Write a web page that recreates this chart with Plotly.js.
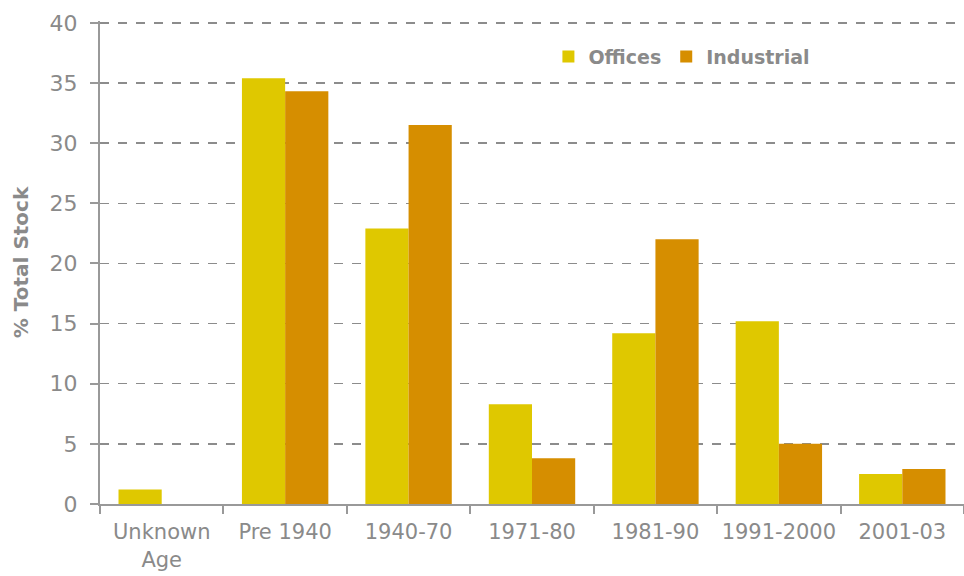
<!DOCTYPE html>
<html>
<head>
<meta charset="utf-8">
<script src="https://cdn.plot.ly/plotly-3.0.1.min.js"></script>
<style>html,body{margin:0;padding:0;background:#fff;}#chart{width:964px;height:576px;}</style>
</head>
<body>
<div id="chart"></div>
<script>
var categories = ["Unknown<br>Age", "Pre 1940", "1940-70", "1971-80", "1981-90", "1991-2000", "2001-03"];
var offices = [1.2, 35.4, 22.9, 8.3, 14.2, 15.2, 2.5];
var industrial = [0, 34.3, 31.5, 3.8, 22.0, 5.0, 2.9];
var yTicks = [0, 5, 10, 15, 20, 25, 30, 35, 40];

var grey = "#8a8a8a";
var traces = [
  {type: "bar", name: "Offices", x: categories, y: offices, marker: {color: "#DFC800"}},
  {type: "bar", name: "Industrial", x: categories, y: industrial, marker: {color: "#D68E00"}}
];
var layout = {
  width: 964, height: 576,
  margin: {l: 100, r: 0, t: 21, b: 72},
  paper_bgcolor: "#fff", plot_bgcolor: "#fff",
  font: {family: "DejaVu Sans", color: grey, size: 21},
  barmode: "group", bargap: 0.3, bargroupgap: 0,
  showlegend: true,
  legend: {orientation: "h", x: 0.519, y: 0.926, xanchor: "left", yanchor: "middle",
           font: {family: "DejaVu Sans", size: 19, color: grey, weight: "bold"},
           bgcolor: "rgba(0,0,0,0)", itemwidth: 30},
  xaxis: {type: "category", showline: true, linecolor: "#999", linewidth: 2,
          ticks: "outside", tickson: "boundaries", ticklen: 8, tickwidth: 2, tickcolor: "#999",
          tickangle: 0, showgrid: false, tickfont: {size: 21, color: grey}, ticklabelstandoff: 8,
          fixedrange: true},
  yaxis: {range: [0, 40.15], tickvals: yTicks, showline: true, linecolor: "#999", linewidth: 2,
          ticks: "outside", ticklen: 8, tickwidth: 2, tickcolor: "#999",
          showgrid: true, gridcolor: "#8c8c8c", gridwidth: 1.5, griddash: "dash", zeroline: false,
          tickfont: {size: 22, color: grey}, ticklabelstandoff: 8,
          title: {text: "% Total Stock", font: {size: 20, color: grey, weight: "bold"}, standoff: 16}}
};
Plotly.newPlot("chart", traces, layout, {displayModeBar: false, staticPlot: true});
</script>
</body>
</html>
